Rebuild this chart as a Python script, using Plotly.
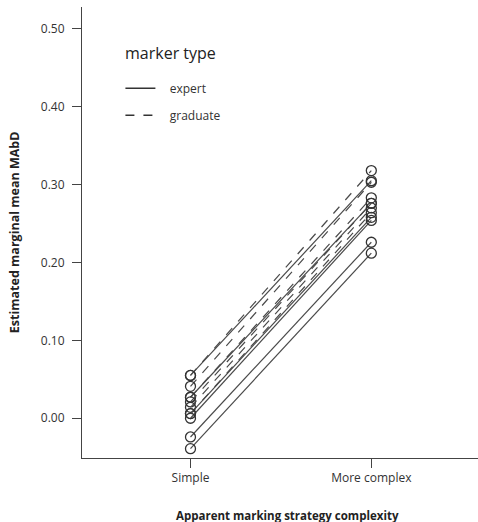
import plotly.graph_objects as go

categories = ["Simple", "More complex"]

expert_simple = [0.055, 0.027, 0.006, 0.000, -0.024, -0.039]
expert_complex = [0.305, 0.276, 0.258, 0.254, 0.226, 0.212]

graduate_simple = [0.055, 0.041, 0.027, 0.021, 0.014, 0.006]
graduate_complex = [0.318, 0.303, 0.283, 0.276, 0.270, 0.264]

y_ticks = [0.0, 0.1, 0.2, 0.3, 0.4, 0.5]
y_ticklabels = ["0.00", "0.10", "0.20", "0.30", "0.40", "0.50"]

legend_title = "marker type"
legend_names = ["expert", "graduate"]

FONT = "Open Sans"
LINE_COL = "#4a4a4a"
NBSP = "\u00a0"

fig = go.Figure()

def add_group(simple, complex_, name, dash):
    for a, b in zip(simple, complex_):
        fig.add_trace(go.Scatter(
            x=categories, y=[a, b], mode="lines+markers",
            line=dict(color=LINE_COL, width=1.2, dash=dash),
            marker=dict(symbol="circle-open", size=10, color="#333333",
                        line=dict(width=1.3, color="#333333")),
            showlegend=False, hoverinfo="y",
        ))
    # legend entry: line only
    fig.add_trace(go.Scatter(
        x=[None], y=[None], mode="lines",
        line=dict(color="#333333", width=1.3, dash=dash),
        name=NBSP * 3 + name, legendgroup=name, showlegend=True,
    ))

add_group(expert_simple, expert_complex, legend_names[0], "solid")
add_group(graduate_simple, graduate_complex, legend_names[1], "dash")

fig.update_layout(
    width=478, height=522,
    margin=dict(l=82, r=0, t=7, b=64),
    paper_bgcolor="white", plot_bgcolor="white",
    font=dict(family=FONT, color="#333333", size=12),
    showlegend=True,
    legend=dict(
        x=0.097, y=0.852, xanchor="left", yanchor="top",
        bgcolor="rgba(0,0,0,0)",
        font=dict(size=12, color="#333333"),
        tracegroupgap=8,
    ),
    xaxis=dict(
        range=[-0.6, 1.59], showgrid=False, zeroline=False, automargin=False,
        showline=True, linecolor="#444444", linewidth=1,
        ticks="outside", ticklen=9, tickcolor="#444444", tickwidth=1,
        tickfont=dict(size=12, color="#333333"),
    ),
    yaxis=dict(
        range=[-0.051, 0.528], showgrid=False, zeroline=False, automargin=False,
        showline=True, linecolor="#444444", linewidth=1,
        ticks="outside", ticklen=9, tickcolor="#444444", tickwidth=1,
        ticklabelstandoff=5,
        tickvals=y_ticks, ticktext=y_ticklabels,
        tickfont=dict(size=12, color="#333333"),
    ),
    annotations=[
        dict(text=legend_title, xref="paper", yref="paper",
             x=0.1035, y=0.898, xanchor="left", yanchor="middle",
             showarrow=False, font=dict(size=16, color="#222222")),
        dict(text="<b>Apparent marking strategy complexity</b>",
             xref="paper", yref="paper", x=0.52, y=-0.128,
             xanchor="center", yanchor="middle", showarrow=False,
             font=dict(size=11.5, color="#222222")),
        dict(text="<b>Estimated marginal mean MAbD</b>",
             xref="paper", yref="paper", x=-0.17, y=0.5, textangle=-90,
             xanchor="center", yanchor="middle", showarrow=False,
             font=dict(size=12.5, color="#222222")),
    ],
)

fig.write_html("out.html", config={"displayModeBar": False},
               post_script="document.body.style.margin='0';document.body.style.padding='0';")
